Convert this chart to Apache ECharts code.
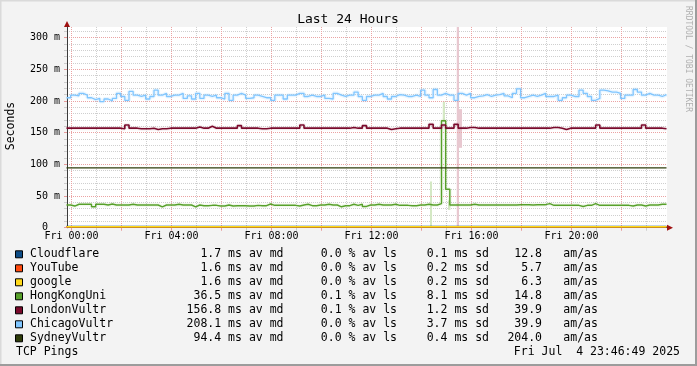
<!DOCTYPE html>
<html><head><meta charset="utf-8">
<script src="https://cdn.jsdelivr.net/npm/echarts@6/dist/echarts.min.js"></script>
<style>html,body{margin:0;padding:0;background:#f3f3f3}#c{width:697px;height:366px}</style>
</head><body><div id="c"></div>
<script>
const FONT = '"DejaVu Sans Mono", monospace';

// ---- legend / statistics table ----
const hostNames   = ['Cloudflare','YouTube','google','HongKongUni','LondonVultr','ChicagoVultr','SydneyVultr'];
const hostColors  = ['#0d4c86','#ff4a0f','#ffd91a','#57a02a','#7a0a2c','#80c6ff','#2e3c0a'];
const avgMedian   = ['1.7','1.6','1.6','36.5','156.8','208.1','94.4'];
const avgLoss     = ['0.0','0.0','0.0','0.1','0.1','0.0','0.0'];
const stdDev      = ['0.1','0.2','0.2','8.1','1.2','3.7','0.4'];
const amas        = ['12.8','5.7','6.3','14.8','39.9','39.9','204.0'];

// ---- time axis (hours relative to Fri 00:00) ----
const X_MIN = -0.18, X_MAX = 23.82;
const START_HOUR = -0.2, STEP_HOURS = 1/6;      // 10-minute samples
const xLabelHours = [0,4,8,12,16,20];
const xMajorHours = [0,2,4,6,8,10,12,14,16,18,20,22];
const xMinorHours = [1,3,5,7,9,11,13,15,17,19,21,23];

// ---- value axis (ms) ----
const Y_MAX = 316.6;
const yLabelValues = [0,50,100,150,200,250,300];
const yMinorValues = [10,20,30,40,60,70,80,90,110,120,130,140,160,170,180,190,210,220,230,240,260,270,280,290,310];

// ---- median RTT series (ms) ----
const chicago = [
 205,209,208,212,209,205,202,204,199,203, 200,204,212,207,201,215,209,207,209,203,
 207,217,209,212,207,209,209,212,204,208, 203,212,204,209,207,209,205,203,212,201,
 209,212,209,204,205,209,207,205,
 205,201,209,209,203,209,209,212,212,207, 209,207,207,209,204,203,212,209,207,209,
 209,214,207,201,207,209,209,212,207,203, 207,210,209,207,207,209,207,217,209,205,
 218,209,212,209,209,201,212,209,
 212,205,207,208,210,207,209,210,212,208, 205,212,219,205,207,209,207,209,212,207,
 207,209,201,205,209,207,207,217,212,207, 201,204,217,216,214,214,212,204,209,209,
 218,214,209,212,209,209,207,210
];
const london = [
 157,157,157,157,157,157,157,157,157,157, 157,157,157,156,162,157,157,156,156,156,
 157,155,156,156,157,157,157,157,157,157, 157,159,157,157,160,157,157,157,157,157,
 157,161,157,157,157,157,156,156,
 157,157,157,157,157,157,157,157,162,157, 157,157,157,157,157,157,157,157,157,157,
 158,157,157,161,157,157,157,157,157,155, 156,157,157,157,157,157,157,157,157,163,
 157,157,162,157,157,163,157,157,
 158,158,157,157,157,157,157,157,157,157, 157,157,157,157,157,157,157,157,157,157,
 158,158,157,155,157,157,157,157,157,157, 157,162,157,157,157,157,157,157,157,157,
 157,157,162,157,157,157,157,156
];
const hongkong = [
 35.8,34.2,37,37,37,37,33,37,37,35.8, 37.4,35.8,35.8,35.8,35.8,37,35.8,35.8,35.8,35.8,
 35.8,35.8,33,35.8,35.8,35.8,37,35.8,35.8,35.8, 33,35.8,34.7,34.7,35.3,35.3,34.2,34.2,35.8,34.2,
 34.7,34.7,34.7,34.2,34.2,35.3,34.7,34.7,37.4,35.3, 35.3,35.3,35.3,35.3,35.3,34.2,35.8,37,34.7,34.7,
 35.8,35.8,37,35.8,35.8,33,34.7,34.7,37,35.3, 37,33.5,35.8,35.8,37,35.8,35.8,35.8,37,35.3,
 35.3,35.3,34.7,34.7,35.8,35.8,37,35.8,35.8,38, 168.8,60.6,35.8,35.8,35.8,35.8,35.8,37,35.8,35.8,
 35.8,35.8,35.8,35.8,35.8,35.8,35.8,35.8,36.3,36.3, 36.3,35.8,36.3,36.3,36.3,38,35.3,35.3,35.3,35.3,
 35.3,35.3,35.3,33.5,35.3,35.3,38,35.3,35.3,35.3, 35.3,35.3,35.3,35.3,35.3,34.2,35.8,35.8,34.2,35.8,
 35.8,35.8,37,37
];
// flat series: value at start and end of the window
const cloudflare = [1.7, 1.7];
const youtube    = [1.6, 1.6];
const google     = [1.6, 1.6];
const sydney     = [94.4, 94.4];

// smoke (spread) spans: [startHour, endHour, low ms, high ms, host]
const smokeSpans = [
 [14.34, 14.42, 0, 73, 'HongKongUni'],
 [14.85, 14.94, 167, 199, 'HongKongUni'],
 [15.06, 15.16, 28, 43, 'HongKongUni'],
 [15.41, 15.50, 0, 340, 'LondonVultr'],
 [15.42, 15.62, 126, 187, 'LondonVultr']
];
const smokeColors = {HongKongUni: '#d4e8c4', LondonVultr: '#e8c8d0'};

function sampled(vals) {
  const d = vals.map((v, i) => [START_HOUR + i * STEP_HOURS, v]);
  d.push([START_HOUR + vals.length * STEP_HOURS, vals[vals.length - 1]]);
  return d;
}
function flat(vals) {
  return [[START_HOUR, vals[0]], [START_HOUR + 144 * STEP_HOURS, vals[1]]];
}
function color(name) { return hostColors[hostNames.indexOf(name)]; }

function lineSeries(name, data, width, z) {
  return { name, type: 'line', data, step: 'end', showSymbol: false, symbol: 'none',
    xAxisIndex: 0, yAxisIndex: 0, z: z || 5, animation: false, silent: true,
    lineStyle: { color: color(name), width: width || 1.5 } };
}
function haloSeries(name, data, c) {
  return { name: name + ' smoke', type: 'line', data, step: 'end', showSymbol: false, symbol: 'none',
    z: 3, animation: false, silent: true, lineStyle: { color: c, width: 4 } };
}

const pad = h => (h < 10 ? '0' : '') + h;

const chart = echarts.init(document.getElementById('c'), null, { renderer: 'canvas' });

const legendGraphics = [];
const ROW0 = 254.3, ROWH = 14;
hostNames.forEach((n, i) => {
  const y = ROW0 + i * ROWH;
  const ts = { fontFamily: FONT, fontSize: 11.5, fill: '#000', verticalAlign: 'middle' };
  legendGraphics.push(
    { type: 'rect', shape: { x: 15.5, y: y - 3.5, width: 7, height: 7 }, style: { fill: hostColors[i], stroke: '#000', lineWidth: 1 } },
    { type: 'text', x: 30, y, style: Object.assign({ text: n, align: 'left' }, ts) },
    { type: 'text', x: 283.5, y, style: Object.assign({ text: avgMedian[i] + ' ms av md', align: 'right' }, ts) },
    { type: 'text', x: 397, y, style: Object.assign({ text: avgLoss[i] + ' % av ls', align: 'right' }, ts) },
    { type: 'text', x: 489, y, style: Object.assign({ text: stdDev[i] + ' ms sd', align: 'right' }, ts) },
    { type: 'text', x: 542, y, style: Object.assign({ text: amas[i], align: 'right' }, ts) },
    { type: 'text', x: 563.3, y, style: Object.assign({ text: 'am/as', align: 'left' }, ts) }
  );
});
const lastY = ROW0 + 7 * ROWH;
legendGraphics.push(
  { type: 'text', x: 16, y: lastY, style: { text: 'TCP Pings', fontFamily: FONT, fontSize: 11.5, fill: '#000', align: 'left', verticalAlign: 'middle' } },
  { type: 'text', x: 680, y: lastY, style: { text: 'Fri Jul  4 23:46:49 2025', fontFamily: FONT, fontSize: 11.5, fill: '#000', align: 'right', verticalAlign: 'middle' } }
);

const option = {
  backgroundColor: '#f3f3f3',
  animation: false,
  grid: { left: 67, top: 27, width: 600, height: 200.7, show: true, backgroundColor: '#ffffff', borderWidth: 0 },
  xAxis: [
    { type: 'value', position: 'bottom', min: X_MIN, max: X_MAX, z: 3,
      axisLine: { show: true, onZero: false, lineStyle: { color: '#3a3a3a', width: 1 } },
      axisTick: { show: true, customValues: xMajorHours, length: 3, lineStyle: { color: '#e79a9a' } },
      axisLabel: { show: true, customValues: xLabelHours, formatter: v => 'Fri ' + pad(v) + ':00',
        fontFamily: FONT, fontSize: 10, color: '#000', margin: 4 },
      splitLine: { show: true, lineStyle: { color: '#eba3a3', type: [1, 1], width: 1 } } },
    { type: 'value', position: 'bottom', min: X_MIN, max: X_MAX, z: 1,
      axisLine: { show: true, onZero: false, symbol: ['none', 'triangle'], symbolSize: [6, 6], symbolOffset: [0, 3],
        lineStyle: { color: '#a01010', width: 1 } },
      axisTick: { show: true, customValues: xMinorHours, length: 3, lineStyle: { color: '#cccccc' } },
      axisLabel: { show: false },
      splitLine: { show: true, lineStyle: { color: '#cfcfcf', type: [1, 1], width: 1 } } }
  ],
  yAxis: [
    { type: 'value', position: 'left', min: 0, max: Y_MAX, z: 3,
      axisLine: { show: true, onZero: false, lineStyle: { color: '#3a3a3a', width: 1 } },
      axisTick: { show: true, customValues: yLabelValues, length: 3, lineStyle: { color: '#e79a9a' } },
      axisLabel: { show: true, customValues: yLabelValues, formatter: v => v === 0 ? '0  ' : v + ' m',
        fontFamily: FONT, fontSize: 10, color: '#000', margin: 7 },
      splitLine: { show: true, lineStyle: { color: '#eba3a3', type: [1, 1], width: 1 } } },
    { type: 'value', position: 'left', min: 0, max: Y_MAX, z: 1,
      axisLine: { show: true, onZero: false, symbol: ['none', 'triangle'], symbolSize: [6, 6], symbolOffset: [0, 3],
        lineStyle: { color: '#a01010', width: 1 } },
      axisTick: { show: true, customValues: yMinorValues, length: 3, lineStyle: { color: '#cccccc' } },
      axisLabel: { show: false },
      splitLine: { show: true, lineStyle: { color: '#cfcfcf', type: [1, 1], width: 1 } } }
  ],
  series: [
    { name: 'smoke', type: 'custom', z: 2, silent: true, animation: false,
      data: smokeSpans,
      renderItem: (params, api) => {
        const s = api.value(0), e = api.value(1), lo = api.value(2), hi = api.value(3);
        const p1 = api.coord([s, hi]), p2 = api.coord([e, lo]);
        const shape = echarts.graphic.clipRectByRect(
          { x: p1[0], y: p1[1], width: p2[0] - p1[0], height: p2[1] - p1[1] },
          { x: params.coordSys.x, y: params.coordSys.y, width: params.coordSys.width, height: params.coordSys.height });
        const host = smokeSpans[params.dataIndex][4];
        return shape && { type: 'rect', shape, style: { fill: smokeColors[host] } };
      },
      encode: { x: [0, 1], y: [2, 3] } },
    haloSeries('ChicagoVultr', sampled(chicago), 'rgba(128,198,255,0.16)'),
    haloSeries('LondonVultr', sampled(london), 'rgba(122,10,44,0.07)'),
    haloSeries('HongKongUni', sampled(hongkong), 'rgba(87,160,42,0.08)'),
    lineSeries('Cloudflare', flat(cloudflare), 1.5),
    lineSeries('YouTube', flat(youtube), 1.5),
    lineSeries('google', flat(google), 1.5),
    lineSeries('HongKongUni', sampled(hongkong), 1.4),
    lineSeries('LondonVultr', sampled(london), 1.6),
    lineSeries('ChicagoVultr', sampled(chicago), 1.3),
    lineSeries('SydneyVultr', flat(sydney), 1.3)
  ],
  graphic: [
    { type: 'rect', shape: { x: 0, y: 0, width: 697, height: 1.5 }, style: { fill: '#dadada' }, z: 100 },
    { type: 'rect', shape: { x: 0, y: 0, width: 1.5, height: 366 }, style: { fill: '#dadada' }, z: 100 },
    { type: 'rect', shape: { x: 0, y: 364, width: 697, height: 2 }, style: { fill: '#9c9c9c' }, z: 100 },
    { type: 'rect', shape: { x: 695, y: 0, width: 2, height: 366 }, style: { fill: '#9c9c9c' }, z: 100 },
    { type: 'text', x: 348, y: 19.5, style: { text: 'Last 24 Hours', fontFamily: FONT, fontSize: 13, fill: '#000', align: 'center', verticalAlign: 'middle' } },
    { type: 'text', x: 11, y: 126, rotation: Math.PI / 2, style: { text: 'Seconds', fontFamily: FONT, fontSize: 11.5, fill: '#000', align: 'center', verticalAlign: 'middle' } },
    { type: 'text', x: 688.5, y: 59, rotation: -Math.PI / 2, style: { text: 'RRDTOOL / TOBI OETIKER', fontFamily: FONT, fontSize: 8, fill: '#b0b0b0', align: 'center', verticalAlign: 'middle' } }
  ].concat(legendGraphics)
};
chart.setOption(option);
</script></body></html>
